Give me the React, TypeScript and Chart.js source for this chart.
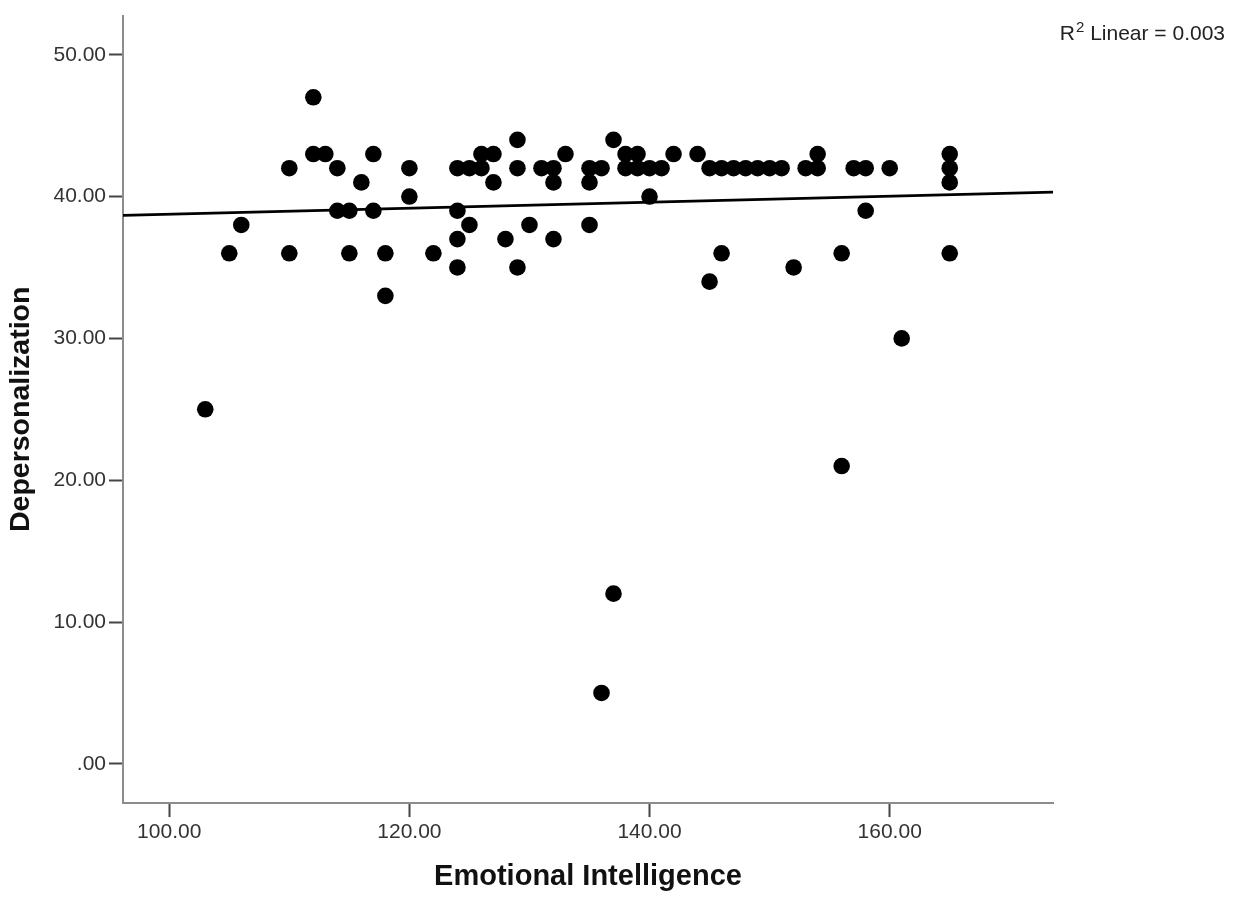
import React, { useEffect, useRef } from "react";
import { Chart, registerables } from "chart.js";

Chart.register(...registerables);

// Emotional Intelligence (x) and Depersonalization (y) scores
const emotionalIntelligence = [
  103, 105, 106, 110, 110, 112, 112, 113, 114, 114, 115, 115, 116, 117, 117, 118, 118,
  120, 120, 122, 124, 124, 124, 124, 125, 125, 126, 126, 127, 127, 128, 129, 129, 129,
  130, 131, 132, 132, 132, 133, 135, 135, 135, 136, 136, 137, 137, 138, 138, 139, 139,
  140, 140, 141, 142, 144, 145, 145, 146, 146, 147, 148, 149, 150, 151, 152, 153, 154,
  154, 156, 156, 157, 158, 158, 160, 161, 165, 165, 165, 165,
];
const depersonalization = [
  25, 36, 38, 42, 36, 47, 43, 43, 42, 39, 39, 36, 41, 43, 39, 36, 33,
  42, 40, 36, 42, 39, 37, 35, 42, 38, 42, 43, 43, 41, 37, 44, 42, 35,
  38, 42, 42, 41, 37, 43, 42, 41, 38, 42, 5, 44, 12, 43, 42, 43, 42,
  42, 40, 42, 43, 43, 42, 34, 42, 36, 42, 42, 42, 42, 42, 35, 42, 42,
  43, 36, 21, 42, 42, 39, 42, 30, 43, 42, 41, 36,
];

const xTickValues = [100, 120, 140, 160];
const xTickLabels = ["100.00", "120.00", "140.00", "160.00"];
const yTickValues = [0, 10, 20, 30, 40, 50];
const yTickLabels = [".00", "10.00", "20.00", "30.00", "40.00", "50.00"];

// Fit line endpoints (linear regression)
const fitLineX = [96.15, 173.6];
const fitLineY = [38.67, 40.31];
const rSquaredValue = "0.003";

const xTitle = "Emotional Intelligence";
const yTitle = "Depersonalization";

const FONT = "'Liberation Sans', Arial, sans-serif";

const r2Plugin = {
  id: "r2Label",
  afterDraw(chart: any) {
    const ctx = chart.ctx as CanvasRenderingContext2D;
    ctx.save();
    ctx.fillStyle = "#222";
    ctx.textBaseline = "alphabetic";
    ctx.textAlign = "left";
    const mainFont = `21px ${FONT}`;
    const supFont = `15px ${FONT}`;
    ctx.font = mainFont;
    const rW = ctx.measureText("R").width;
    const rest = " Linear = " + rSquaredValue;
    const restW = ctx.measureText(rest).width;
    ctx.font = supFont;
    const supW = ctx.measureText("2").width;
    const rightEdge = 1225;
    let x = rightEdge - (rW + supW + 1 + restW);
    const baseline = 40;
    ctx.font = mainFont;
    ctx.fillText("R", x, baseline);
    x += rW + 1;
    ctx.font = supFont;
    ctx.fillText("2", x, baseline - 8);
    x += supW;
    ctx.font = mainFont;
    ctx.fillText(rest, x, baseline);
    ctx.restore();
  },
};

export default function App() {
  const canvasRef = useRef<HTMLCanvasElement | null>(null);

  useEffect(() => {
    const canvas = canvasRef.current;
    if (!canvas) return;
    const points = emotionalIntelligence.map((v, i) => ({ x: v, y: depersonalization[i] }));
    const fit = fitLineX.map((v, i) => ({ x: v, y: fitLineY[i] }));

    const chart = new Chart(canvas, {
      type: "scatter",
      data: {
        datasets: [
          {
            type: "line",
            data: fit,
            borderColor: "#000",
            borderWidth: 2.8,
            pointRadius: 0,
            fill: false,
            order: 0,
          } as any,
          {
            data: points,
            pointRadius: 8.3,
            pointHoverRadius: 8.3,
            backgroundColor: "#000",
            borderWidth: 0,
            order: 1,
          },
        ],
      },
      options: {
        responsive: false,
        animation: false,
        devicePixelRatio: 1,
        layout: { padding: { left: 0, top: 13, right: 181, bottom: 0 } },
        plugins: {
          legend: { display: false },
          tooltip: { enabled: false },
        },
        scales: {
          x: {
            type: "linear",
            min: fitLineX[0],
            max: fitLineX[1],
            afterBuildTicks: (s: any) => {
              s.ticks = xTickValues.map((v) => ({ value: v }));
            },
            afterFit: (s: any) => {
              s.height = 95;
            },
            border: { display: true, color: "#8c8c8c", width: 2 },
            grid: {
              display: true,
              drawOnChartArea: false,
              drawTicks: true,
              tickLength: 14,
              tickColor: "#444",
              tickWidth: 2,
            },
            ticks: {
              autoSkip: false,
              maxRotation: 0,
              padding: 3,
              color: "#333",
              font: { family: FONT, size: 21 },
              callback: (v: any) => {
                const i = xTickValues.indexOf(Number(v));
                return i >= 0 ? xTickLabels[i] : "";
              },
            },
            title: {
              display: true,
              text: xTitle,
              color: "#111",
              font: { family: FONT, size: 29, weight: "bold" },
              padding: { top: 0, bottom: 4 },
            },
          },
          y: {
            type: "linear",
            min: -2.76,
            max: 52.76,
            afterBuildTicks: (s: any) => {
              s.ticks = yTickValues.map((v) => ({ value: v }));
            },
            afterFit: (s: any) => {
              s.width = 123;
            },
            border: { display: true, color: "#8c8c8c", width: 2 },
            grid: {
              display: true,
              drawOnChartArea: false,
              drawTicks: true,
              tickLength: 14,
              tickColor: "#444",
              tickWidth: 2,
            },
            ticks: {
              autoSkip: false,
              padding: 3,
              color: "#333",
              font: { family: FONT, size: 21 },
              callback: (v: any) => {
                const i = yTickValues.indexOf(Number(v));
                return i >= 0 ? yTickLabels[i] : "";
              },
            },
            title: {
              display: true,
              text: yTitle,
              color: "#111",
              font: { family: FONT, size: 28.5, weight: "bold" },
              padding: { top: 4, bottom: 0 },
            },
          },
        },
      },
      plugins: [r2Plugin],
    });
    return () => chart.destroy();
  }, []);

  return (
    <div style={{ position: "absolute", left: 0, top: 0, width: 1234, height: 898, background: "#fff" }}>
      <canvas ref={canvasRef} width={1234} height={898} style={{ display: "block" }} />
    </div>
  );
}
